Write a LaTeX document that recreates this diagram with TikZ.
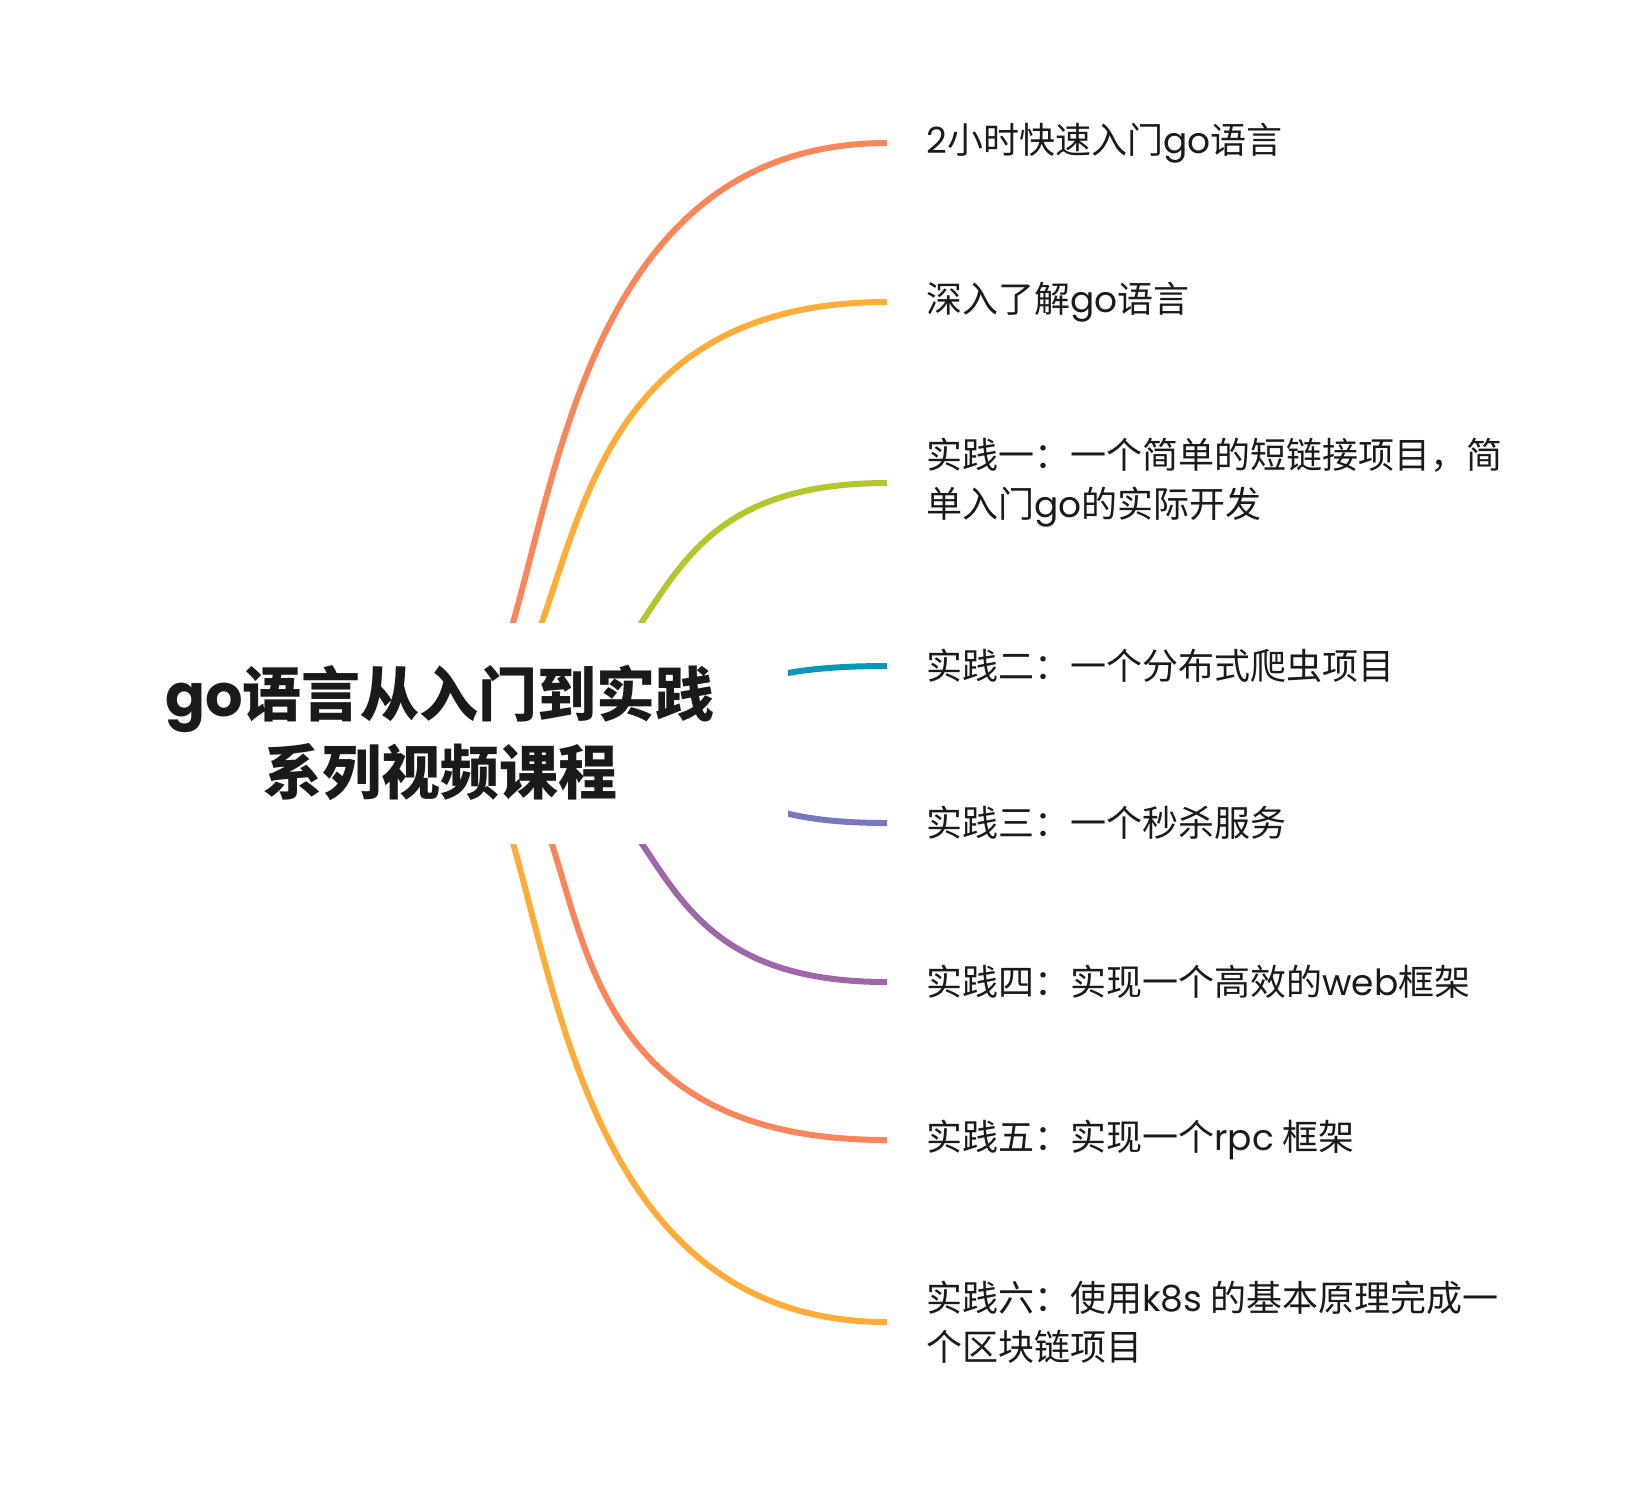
\documentclass[tikz,border=0pt]{standalone}
\usepackage{fontspec}
\usepackage{xcolor}
\setmainfont{Noto Sans CJK SC}
\newfontfamily\latfont{Poppins}
\usetikzlibrary{backgrounds}
\definecolor{mmorange}{RGB}{251, 134, 90}
\definecolor{mmyellow}{RGB}{255, 172, 56}
\definecolor{mmgreen}{RGB}{182, 199, 46}
\definecolor{mmteal}{RGB}{6, 154, 184}
\definecolor{mmindigo}{RGB}{120, 120, 192}
\definecolor{mmpurple}{RGB}{160, 102, 170}
\definecolor{mmtext}{RGB}{26, 26, 26}
\newcommand{\latn}[1]{{\latfont #1}}

\begin{document}
\begin{tikzpicture}[x=0.5pt, y=-0.5pt,
  root/.style={fill=white, minimum width=348pt, minimum height=110.5pt, align=center, text=mmtext, font=\fontsize{29.5pt}{39pt}\selectfont\bfseries},
  topic/.style={anchor=west, inner xsep=19.5pt, inner ysep=0pt, align=left, text=mmtext, font=\fontsize{18pt}{24.5pt}\selectfont},
  link/.style={line width=3pt}]
\useasboundingbox (0,0) rectangle (1636,1490);

% Central topic
\node[root] (root) at (440,733) {\latn{go}语言从入门到实践\\系列视频课程};

% Branch topics
\node[topic] (t1) at (887,143) {\latn{2}小时快速入门\latn{go}语言};
\node[topic] (t2) at (887,302) {深入了解\latn{go}语言};
\node[topic] (t3) at (887,483) {实践一：一个简单的短链接项目，简\\单入门\latn{go}的实际开发};
\node[topic] (t4) at (887,666) {实践二：一个分布式爬虫项目};
\node[topic] (t5) at (887,823) {实践三：一个秒杀服务};
\node[topic] (t6) at (887,982) {实践四：实现一个高效的\latn{web}框架};
\node[topic] (t7) at (887,1140) {实践五：实现一个\latn{rpc} 框架};
\node[topic] (t8) at (887,1322) {实践六：使用\latn{k8s} 的基本原理完成一\\个区块链项目};

% Curved links behind the central topic
\begin{scope}[on background layer]
\draw[link, mmorange] (root.center) .. controls (565,733) and (496,143) .. (t1.west);
\draw[link, mmyellow] (root.center) .. controls (607,733) and (492,302) .. (t2.west);
\draw[link, mmgreen] (root.center) .. controls (705,733) and (589,483) .. (t3.west);
\draw[link, mmteal] (root.center) .. controls (768,733) and (668,666) .. (t4.west);
\draw[link, mmindigo] (root.center) .. controls (768,733) and (668,823) .. (t5.west);
\draw[link, mmpurple] (root.center) .. controls (705,733) and (589,982) .. (t6.west);
\draw[link, mmorange] (root.center) .. controls (635,733) and (471,1140) .. (t7.west);
\draw[link, mmyellow] (root.center) .. controls (565,733) and (496,1322) .. (t8.west);
\end{scope}
\end{tikzpicture}
\end{document}
